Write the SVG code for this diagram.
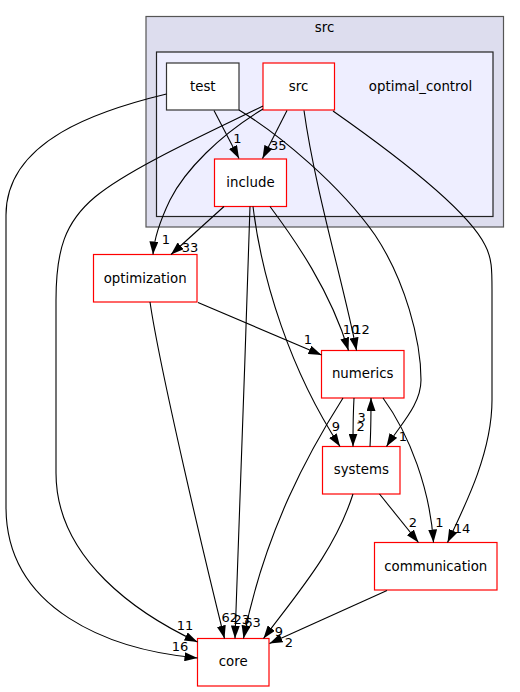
<svg xmlns="http://www.w3.org/2000/svg" width="520" height="692" viewBox="0 0 520 692">
<style>
text{font-family:"DejaVu Sans","Liberation Sans",sans-serif;font-size:13.33px;fill:#000;text-anchor:middle}
.lbl{font-size:13px}
.node{fill:#fff;stroke:#ff0000;stroke-width:1.2}
.plain{fill:#fff;stroke:#333;stroke-width:1.2}
.edge{fill:none;stroke:#000;stroke-width:1.1}
</style>
<defs>
<marker id="ah" markerUnits="userSpaceOnUse" viewBox="0 0 13 9" refX="13" refY="4.5" markerWidth="13" markerHeight="9" orient="auto">
<path d="M0,0 L13,4.5 L0,9 Z" fill="#000"/>
</marker>
</defs>
<g id="cluster_src">
<rect x="146" y="16.5" width="357.5" height="210.5" fill="#ddddee" stroke="#555" stroke-width="1.2"/>
<text x="324.5" y="32">src</text>
</g>
<g id="cluster_optimal_control">
<rect x="156.5" y="52" width="336.5" height="164.5" fill="#eeeeff" stroke="#222" stroke-width="1.2"/>
<text x="420.5" y="91">optimal_control</text>
</g>
<g id="node_test">
<rect class="plain" x="166.5" y="63" width="72.5" height="47"/>
<text x="202.8" y="90.5">test</text>
</g>
<g id="node_src">
<rect class="node" x="263" y="63" width="71.5" height="47"/>
<text x="298.5" y="90.5">src</text>
</g>
<g id="node_include">
<rect class="node" x="214.5" y="159" width="72" height="47.5"/>
<text x="250.5" y="186.5">include</text>
</g>
<g id="node_optimization">
<rect class="node" x="93.5" y="254.5" width="103.5" height="47.5"/>
<text x="145.2" y="282.5">optimization</text>
</g>
<g id="node_numerics">
<rect class="node" x="321.5" y="350.5" width="82.5" height="47.5"/>
<text x="362.7" y="378">numerics</text>
</g>
<g id="node_systems">
<rect class="node" x="322.5" y="446.5" width="77.5" height="47.5"/>
<text x="361.3" y="474">systems</text>
</g>
<g id="node_communication">
<rect class="node" x="374.5" y="542.5" width="122.5" height="47.5"/>
<text x="435.8" y="570.5">communication</text>
</g>
<g id="node_core">
<rect class="node" x="197.5" y="638.5" width="71.5" height="47.5"/>
<text x="233.2" y="666">core</text>
</g>
<g id="connectors">
<path class="edge" marker-end="url(#ah)" d="M214,110.5 L239,158.5"/>
<text class="lbl" x="237.5" y="142.5">1</text>
<path class="edge" marker-end="url(#ah)" d="M287,110.5 L262.5,158.5"/>
<text class="lbl" x="278.2" y="150">35</text>
<path class="edge" marker-end="url(#ah)" d="M224,206.5 L171,254.5"/>
<text class="lbl" x="190" y="252.3">33</text>
<path class="edge" marker-end="url(#ah)" d="M263,109 C220,135 185,170 170,200 C158,225 154,240 153,254.5"/>
<text class="lbl" x="165.8" y="244">1</text>
<path class="edge" marker-end="url(#ah)" d="M198,302.5 L321.5,355"/>
<text class="lbl" x="308" y="344">1</text>
<path class="edge" marker-end="url(#ah)" d="M270,206.5 C295,240 330,290 348.5,350.5"/>
<text class="lbl" x="351" y="334">10</text>
<path class="edge" marker-end="url(#ah)" d="M304,110.5 C315,190 345,290 356.5,350.5"/>
<text class="lbl" x="361.5" y="334">12</text>
<path class="edge" marker-end="url(#ah)" d="M253,206.5 C262,280 290,370 340,446.5"/>
<text class="lbl" x="335.8" y="430.7">9</text>
<path class="edge" marker-end="url(#ah)" d="M239,110 C280,135 340,185 375,235 C405,280 421,340 421,380 C421,405 400,425 386.5,446.5"/>
<text class="lbl" x="403" y="441">1</text>
<path class="edge" marker-end="url(#ah)" d="M354,398 C353,415 353,430 353,446.5"/>
<text class="lbl" x="360.7" y="431">2</text>
<path class="edge" marker-end="url(#ah)" d="M370,446.5 C371,430 371,415 371,398"/>
<text class="lbl" x="361.7" y="421.5">3</text>
<path class="edge" marker-end="url(#ah)" d="M383,398 C410,435 430,490 433.5,542.5"/>
<text class="lbl" x="439.3" y="526.7">1</text>
<path class="edge" marker-end="url(#ah)" d="M379.5,494 L418.5,542.5"/>
<text class="lbl" x="413" y="526.7">2</text>
<path class="edge" marker-end="url(#ah)" d="M333,111 C410,165 470,215 485,245 C492,258 492,270 492,290 L492,400 C492,450 468,500 447.5,542.5"/>
<text class="lbl" x="462" y="533.3">14</text>
<path class="edge" marker-end="url(#ah)" d="M166.5,94 C100,110 6,140 6,215 L6,507 C6,610 110,650 197.5,658"/>
<text class="lbl" x="180" y="650.7">16</text>
<path class="edge" marker-end="url(#ah)" d="M263,106 C210,132 130,168 95,197 C65,222 56,250 56,300 L56,473 C56,560 140,615 197.5,642"/>
<text class="lbl" x="185" y="630">11</text>
<path class="edge" marker-end="url(#ah)" d="M150,302 C160,370 205,560 224.5,638.5"/>
<text class="lbl" x="229.7" y="622.3">62</text>
<path class="edge" marker-end="url(#ah)" d="M250,206.5 C246,350 239,500 235,638.5"/>
<text class="lbl" x="241.7" y="624.3">23</text>
<path class="edge" marker-end="url(#ah)" d="M343,398 C310,450 265,530 243.5,638.5"/>
<text class="lbl" x="252.5" y="626.7">63</text>
<path class="edge" marker-end="url(#ah)" d="M353,494 C335,550 300,590 263.5,638.5"/>
<text class="lbl" x="279" y="636">9</text>
<path class="edge" marker-end="url(#ah)" d="M387,590.5 L269.5,643.5"/>
<text class="lbl" x="289" y="647">2</text>
</g>
</svg>
